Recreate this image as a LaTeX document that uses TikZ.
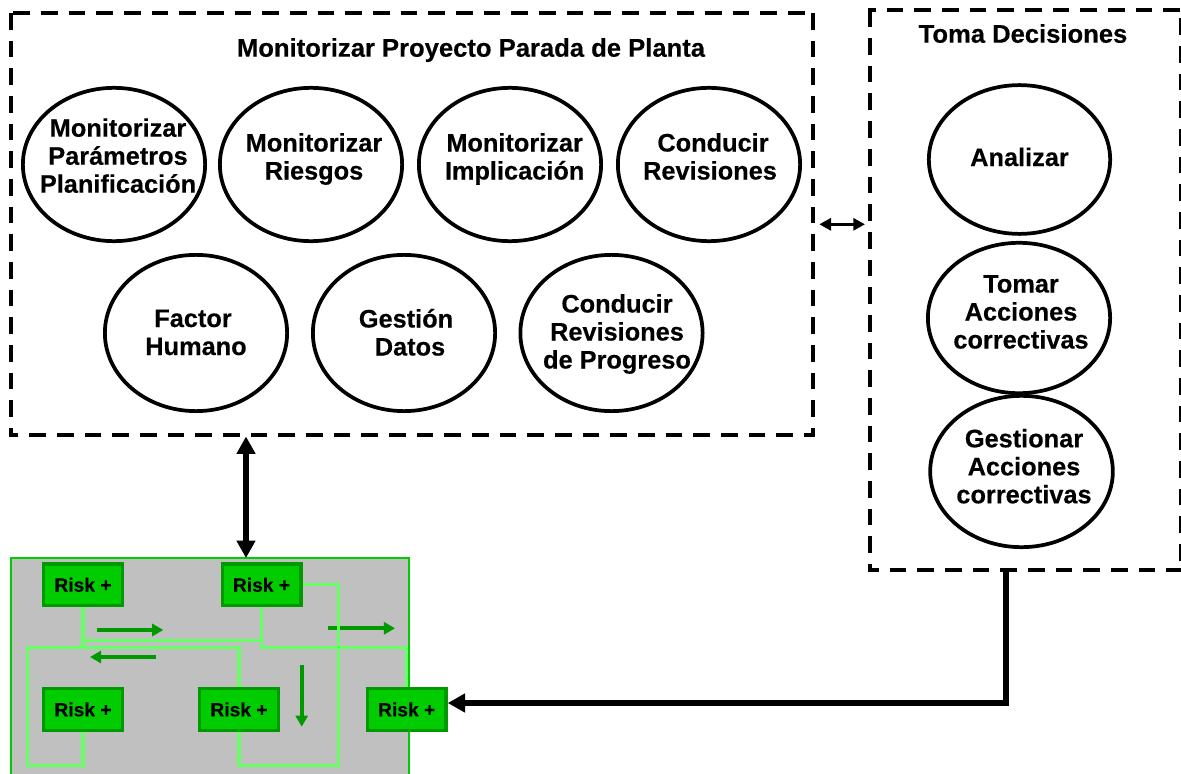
\documentclass[tikz,border=0pt]{standalone}
\usepackage{fontspec}
\setmainfont[BoldFeatures={FakeBold=0.35}]{Liberation Sans}
\usetikzlibrary{arrows.meta,shapes.geometric}
\definecolor{lime}{HTML}{66FF66}
\definecolor{dkg}{HTML}{009900}
\definecolor{boxg}{HTML}{00CC00}
\definecolor{grayf}{HTML}{C0C0C0}
\newcommand{\Lsh}[1]{\hspace*{#1pt}}
\tikzset{
 panel/.style={draw=black,line width=3pt,dash pattern=on 12.5pt off 8.25pt},
 framebox/.style={inner sep=0pt,outer sep=0pt},
 bub/.style={ellipse,draw=black,fill=white,line width=2.8pt,inner sep=0pt},
 ttl/.style={font=\fontsize{19.2}{21}\selectfont\bfseries,inner sep=0pt,anchor=base},
 txt/.style={font=\fontsize{19}{21}\selectfont\bfseries,inner sep=0pt,anchor=base,align=center},
 riskbox/.style={draw=dkg,fill=boxg,line width=2.5pt,minimum width=59pt,minimum height=31.3pt,inner sep=0pt,
   font=\fontsize{14.4}{16}\selectfont\bfseries},
 link/.style={draw=lime,line width=2.5pt},
 flow/.style={draw=dkg,line width=3pt,-{Triangle[length=8.3pt,width=9pt]}},
 thick2/.style={draw=black,line width=3.8pt,-{Triangle[length=13pt,width=13.5pt]}},
}
\begin{document}
\begin{tikzpicture}[x=0.75pt,y=-0.75pt]
\useasboundingbox (0,0) rectangle (1181,774);
% panels
\node[framebox,minimum width=601.5pt,minimum height=315.75pt] (mon) at (412,224.25) {};
\node[framebox,minimum width=233.25pt,minimum height=419.6pt] (dec) at (1025.5,290.25) {};
\coordinate (mtl) at (11,13.5); \coordinate (mtr) at (813,13.5);
\coordinate (mbl) at (11,435); \coordinate (mbr) at (813,435);
\draw[panel] (13.3,13.5) -- (mtr);
\draw[panel] (813,13) -- (mbr);
\draw[panel,dash phase=4.3pt] (815,435) -- (9,435);
\draw[panel] (11,13) -- (mbl);
\coordinate (dtl) at (870,10.5); \coordinate (dtr) at (1181,10.5);
\coordinate (dbl) at (870,570); \coordinate (dbr) at (1181,570);
\draw[panel,dash phase=6.75pt] (868,10.5) -- (dtr);
\draw[panel] (dtl) -- (dbl);
\draw[panel,dash phase=4.5pt] (868,570) -- (dbr);
\draw[panel,dash phase=14.8pt] (dtr) -- (dbr);
\node[ttl] (t1) at (471,56.7) {Monitorizar Proyecto Parada de Planta};
\node[ttl] (t2) at (1023,42.7) {Toma Decisiones};
% bubbles
\node[bub,minimum width=136.7pt,minimum height=115pt] (a1) at (114,164.5) {};
\node[bub,minimum width=136.7pt,minimum height=115pt] (a2) at (311,164.5) {};
\node[bub,minimum width=136.7pt,minimum height=115pt] (a3) at (510,164.5) {};
\node[bub,minimum width=136.7pt,minimum height=115pt] (a4) at (709,164.5) {};
\node[bub,minimum width=136.7pt,minimum height=117.2pt] (b1) at (196,333) {};
\node[bub,minimum width=136.7pt,minimum height=117.2pt] (b2) at (404,333) {};
\node[bub,minimum width=136.7pt,minimum height=117.2pt] (b3) at (611.5,333) {};
\node[bub,minimum width=136pt,minimum height=111.6pt] (c1) at (1019.5,159.5) {};
\node[bub,minimum width=136.7pt,minimum height=112.8pt] (c2) at (1019,318) {};
\node[bub,minimum width=137pt,minimum height=113.5pt] (c3) at (1021.5,471.5) {};
% bubble texts
\node[txt] (ta1) at (118,192.7) {Monitorizar\\Parámetros\Lsh{4.5}\\Planificación};
\node[txt] (ta2) at (314,179.5) {Monitorizar\\Riesgos};
\node[txt] (ta3) at (514.6,179.5) {Monitorizar\\Implicación};
\node[txt] (ta4) at (710,179.5) {\Lsh{4.5}Conducir\\Revisiones};
\node[txt] (tb1) at (196,355) {Factor\Lsh{4.5}\\Humano};
\node[txt] (tb2) at (410,355.5) {Gestión\Lsh{6}\\Datos};
\node[txt] (tb3) at (617,368.5) {Conducir\\Revisiones\Lsh{10.5}\\de Progreso};
\node[txt] (tc1) at (1019.5,166) {Analizar};
\node[txt] (tc2) at (1021,348.5) {Tomar\\Acciones\\correctivas};
\node[txt] (tc3) at (1024,503.3) {Gestionar\\Acciones\\correctivas};
% risk area
\node[draw=boxg,fill=grayf,line width=1.2pt,outer sep=0pt,minimum width=298.5pt,minimum height=170pt,inner sep=0pt,anchor=north west] (area) at (11,558) {};
% flow arrows
\coordinate (f1a) at (96.7,630); \coordinate (f1b) at (163.3,630);
\coordinate (f2a) at (155.7,657); \coordinate (f2b) at (90,657);
\coordinate (f3a) at (328.3,628.3); \coordinate (f3b) at (395,628.3);
\coordinate (f4a) at (301.7,665); \coordinate (f4b) at (301.7,726.7);
\draw[flow] (f1a) -- (f1b);
\draw[flow] (f2a) -- (f2b);
\draw[flow] (f3a) -- (f3b);
\draw[flow] (f4a) -- (f4b);
% links
\coordinate (j1) at (83,640.7); \coordinate (j2) at (261.5,640.7);
\coordinate (j3) at (83,647.3); \coordinate (j4) at (27.3,647.3);
\coordinate (j5) at (27.3,765.3); \coordinate (j6) at (83,765.3);
\coordinate (j7) at (239,647.3); \coordinate (j8) at (261.5,647.3);
\coordinate (j9) at (406.7,647.3); \coordinate (j10) at (239,765.3);
\coordinate (j11) at (338.7,765.3); \coordinate (j12) at (338.7,584.3);
% risk nodes
\node[riskbox] (r1) at (83,584.8) {\raisebox{-0.6pt}{Risk +}};
\node[riskbox] (r2) at (261.5,584.8) {\raisebox{-0.6pt}{Risk +}};
\node[riskbox] (r3) at (83,709.5) {\raisebox{-0.6pt}{Risk +}};
\node[riskbox] (r4) at (239,709.5) {\raisebox{-0.6pt}{Risk +}};
\node[riskbox] (r5) at (406.7,709.5) {\raisebox{-0.6pt}{Risk +}};
\draw[link] (r1.south) -- (j3);
\draw[link] (j1) -- (j2);
\draw[link,line join=miter] (r2.south) -- (j8) -- (j9) -- (r5.north);
\draw[link,line join=miter] (r3.south) -- (j6) -- (j5) -- (j4) -- (j7) -- (r4.north);
\draw[link,line join=miter] (r4.south) -- (j10) -- (j11) -- (j12) -- (r2.east |- j12);
% black connectors
\coordinate (k1) at (246,436.5); \coordinate (k2) at (246,558);
\draw[thick2,{Triangle[length=13pt,width=13.5pt]}-{Triangle[length=13pt,width=13.5pt]}] (k1) -- (k2);
\coordinate (k3) at (819.3,224.3); \coordinate (k4) at (865,224.3);
\draw[draw=black,line width=2.4pt,{Triangle[length=8.8pt,width=9pt]}-{Triangle[length=8.8pt,width=9pt]}] (k3) -- (k4);
\coordinate (k5) at (1006,571); \coordinate (k6) at (1006,703);
\draw[thick2] (k5) -- (k6) -- (r5.east |- k6);
\end{tikzpicture}
\end{document}
